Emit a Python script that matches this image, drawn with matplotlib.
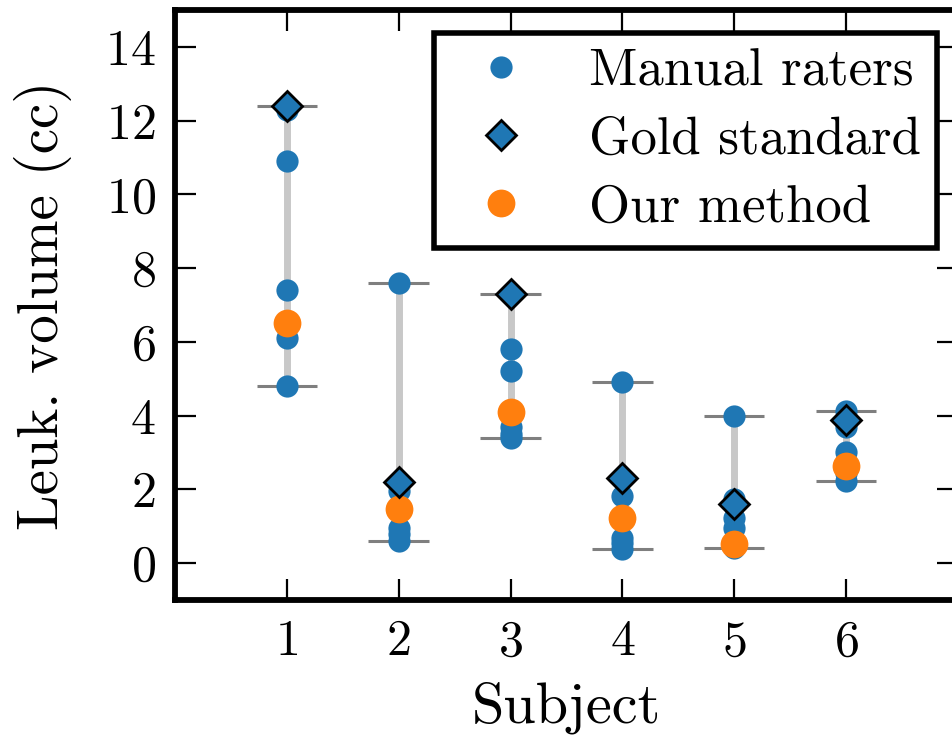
import numpy as np
import matplotlib.pyplot as plt

plt.rcParams['font.family'] = 'serif'
plt.rcParams['font.serif'] = ['cmr10']
plt.rcParams['mathtext.fontset'] = 'cm'
plt.rcParams['axes.unicode_minus'] = False
plt.rcParams['axes.formatter.use_mathtext'] = True

# ---- data ----
subjects = [1, 2, 3, 4, 5, 6]
raters = [
    [12.3, 10.9, 7.4, 6.1, 4.8],
    [7.6, 1.95, 0.95, 0.78, 0.6],
    [5.8, 5.2, 3.68, 3.5, 3.38],
    [4.9, 1.82, 0.69, 0.55, 0.38],
    [4.0, 1.75, 1.23, 0.96, 0.42],
    [4.12, 3.68, 3.02, 2.45, 2.22],
]
gold = [12.4, 2.2, 7.3, 2.3, 1.6, 3.88]
ours = [6.5, 1.46, 4.1, 1.23, 0.53, 2.63]

blue = '#1f77b4'
orange = '#ff7f0e'

fig = plt.figure(figsize=(9.53, 7.37), dpi=100)
ax = fig.add_axes([0.1836, 0.1859, 1.0052 - 0.1836, 0.9864 - 0.1859])

# range of raters + gold standard, with caps
lo = [min(min(r), g) for r, g in zip(raters, gold)]
hi = [max(max(r), g) for r, g in zip(raters, gold)]
ax.vlines(subjects, lo, hi, color='#c8c8c8', linewidth=5, zorder=1)
ax.hlines(lo, np.array(subjects) - 0.27, np.array(subjects) + 0.27,
          color='#7f7f7f', linewidth=2.2, zorder=1)
ax.hlines(hi, np.array(subjects) - 0.27, np.array(subjects) + 0.27,
          color='#7f7f7f', linewidth=2.2, zorder=1)

x_r = np.repeat(subjects, [len(r) for r in raters])
y_r = np.concatenate(raters)
ax.plot(x_r, y_r, 'o', color=blue, markersize=16, markeredgewidth=0,
        label='Manual raters', zorder=3)
ax.plot(subjects, gold, 'D', color=blue, markeredgecolor='k',
        markeredgewidth=2, markersize=15, label='Gold standard', zorder=5)
ax.plot(subjects, ours, 'o', color=orange, markersize=20, markeredgewidth=0,
        label='Our method', zorder=4)

ax.set_xlim(0, 7)
ax.set_ylim(-1, 15)
ax.set_xticks(subjects)
ax.set_yticks([0, 2, 4, 6, 8, 10, 12, 14])

for s in ax.spines.values():
    s.set_linewidth(4.2)
ax.tick_params(direction='in', length=15, width=1.6, top=True, right=True,
               labelsize=36, pad=14)

ax.set_xlabel('Subject', fontsize=42, labelpad=12)
ax.set_ylabel('Leuk. volume (cc)', fontsize=41, labelpad=24)

leg = ax.legend(loc='upper right', bbox_to_anchor=(937 / 953, 1 - 33 / 737),
                bbox_transform=fig.transFigure, borderaxespad=0,
                fontsize=38, fancybox=False, framealpha=1, edgecolor='k',
                handlelength=1.95, handletextpad=0.7, borderpad=0.3,
                labelspacing=0.4)
leg.get_frame().set_linewidth(4)

fig.savefig('out.png', dpi=100)
